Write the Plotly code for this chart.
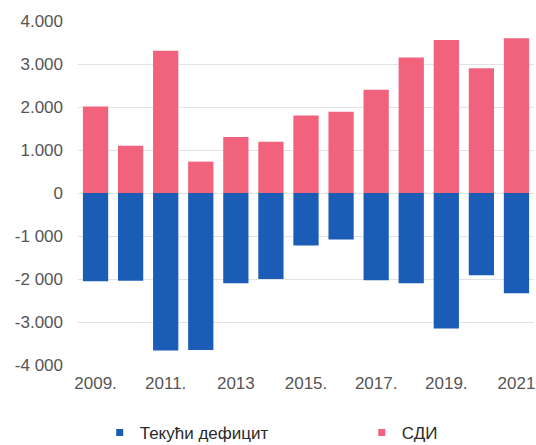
import plotly.graph_objects as go

# Annual values, 2009–2021 (millions)
years = ["2009", "2010", "2011", "2012", "2013", "2014", "2015",
         "2016", "2017", "2018", "2019", "2020", "2021"]
current_deficit = [-2050, -2040, -3660, -3650, -2100, -2000, -1220,
                   -1080, -2030, -2100, -3150, -1910, -2330]
fdi = [2010, 1100, 3310, 730, 1300, 1190, 1800,
       1890, 2400, 3150, 3560, 2900, 3600]

x_tick_vals = ["2009", "2011", "2013", "2015", "2017", "2019", "2021"]
x_tick_text = ["2009.", "2011.", "2013", "2015.", "2017.", "2019.", "2021"]
y_tick_vals = [4000, 3000, 2000, 1000, 0, -1000, -2000, -3000, -4000]
y_tick_text = ["4.000", "3.000", "2.000", "1.000", "0",
               "-1 000", "-2 000", "-3.000", "-4 000"]

series_names = ["Текући дефицит", "СДИ"]
BLUE = "#1B5DB6"
PINK = "#F1627C"

fig = go.Figure()
fig.add_trace(go.Bar(x=years, y=current_deficit, name=series_names[0],
                     marker=dict(color=BLUE, line=dict(width=0)),
                     showlegend=False))
fig.add_trace(go.Bar(x=years, y=fdi, name=series_names[1],
                     marker=dict(color=PINK, line=dict(width=0)),
                     showlegend=False))

# small square keys, one legend box per series
for name, color, lg in zip(series_names, [BLUE, PINK], ["legend", "legend2"]):
    fig.add_trace(go.Scatter(x=[None], y=[None], mode="markers", name=name,
                             legend=lg,
                             marker=dict(symbol="square", size=7, color=color)))

legend_style = dict(
    orientation="h",
    xref="container", yref="container",
    xanchor="left", yanchor="middle",
    y=0.027,
    font=dict(size=17, color="#2a2a2a"),
    itemwidth=30,
    bgcolor="rgba(0,0,0,0)",
)

fig.update_layout(
    width=536, height=445,
    margin=dict(l=78, r=2, t=21, b=80),
    barmode="relative",
    bargap=0.28,
    plot_bgcolor="white",
    paper_bgcolor="white",
    font=dict(family="Liberation Sans, Arial, sans-serif", size=17, color="#555555"),
    showlegend=True,
    legend=dict(x=0.186, **legend_style),
    legend2=dict(x=0.675, **legend_style),
)

fig.update_xaxes(
    type="category",
    tickmode="array", tickvals=x_tick_vals, ticktext=x_tick_text,
    showgrid=False, zeroline=False, showline=False,
    ticks="", ticklabelstandoff=6,
    tickfont=dict(size=17, color="#555555"),
)
fig.update_yaxes(
    range=[-4000, 4000],
    tickmode="array", tickvals=y_tick_vals, ticktext=y_tick_text,
    showgrid=True, gridcolor="#e3e3e3", gridwidth=1,
    zeroline=False, showline=False,
    ticks="", ticklabelstandoff=14,
    tickfont=dict(size=17, color="#555555"),
)

fig.write_html("out.html")
